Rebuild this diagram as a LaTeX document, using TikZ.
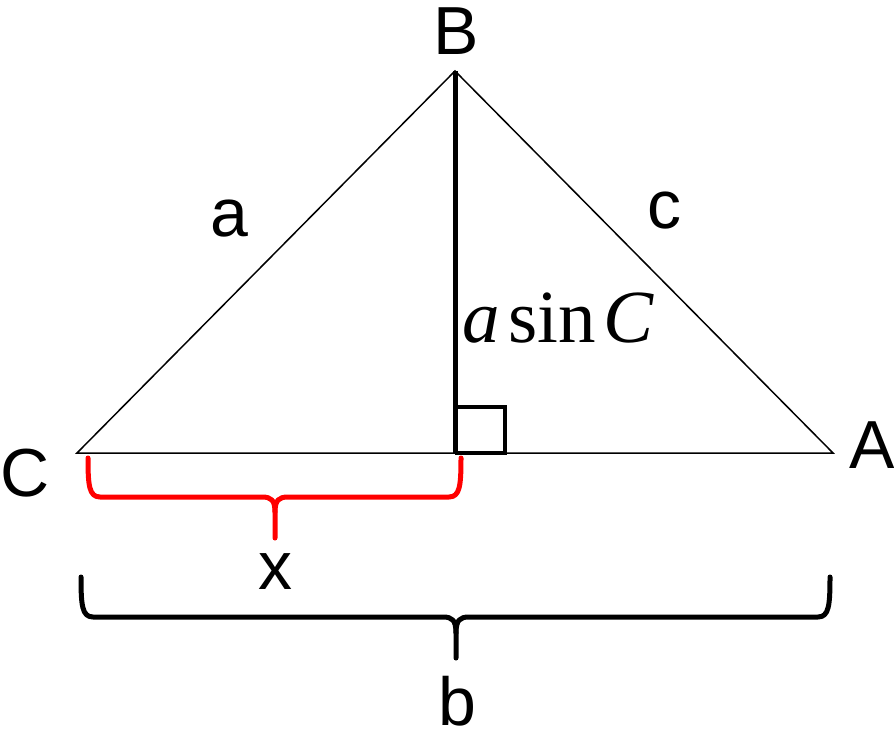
\documentclass[tikz,border=0pt]{standalone}
\usepackage{fontspec}
\setmainfont{Liberation Sans}
\newfontfamily\tnr{Liberation Serif}
\begin{document}
\begin{tikzpicture}[x=1pt,y=-1pt,
  side/.style={line width=1.5pt,line join=miter},
  thickline/.style={line width=5pt},
  brace/.style={line width=5pt,line cap=round,line join=round},
  lbl/.style={inner sep=0pt,font=\fontsize{68}{80}\selectfont}]
\useasboundingbox (0,0) rectangle (894,735);
\coordinate (C) at (77,453);
\coordinate (B) at (455,71);
\coordinate (A) at (833,453);
\coordinate (F) at (455,453);
% triangle
\draw[side] (C) -- (B) -- (A) -- cycle;
% altitude
\draw[thickline] (B) -- (F);
% right angle mark
\draw[line width=4pt] (F) -- (505,453) -- (505,407) -- (455,407);
% labels
\node[lbl] (lB) at (456,31) {B};
\node[lbl] (lC) at (25,473) {C};
\node[lbl] (lA) at (872,445) {A};
\node[lbl] (la) at (229,219) {a};
\node[lbl] (lc) at (664,211) {c};
\node[lbl] (lx) at (275,572) {x};
\node[lbl] (lb) at (457,701) {b};
\node[inner sep=0pt,anchor=base west,font=\tnr\fontsize{75}{90}\selectfont] (h) at (462,342) {\textit{a}\kern0.12em sin\kern0.1em\textit{C}};
% red brace
\draw[brace,red] (88,458) .. controls (88,485) and (89,497) .. (100,497) -- (262,497)
  .. controls (271,497) and (275,500) .. (275,512) -- (275,538);
\draw[brace,red] (461,458) .. controls (461,485) and (460,497) .. (449,497) -- (288,497)
  .. controls (279,497) and (275,500) .. (275,512);
% black brace
\draw[brace] (81,577) .. controls (81,605) and (82,617) .. (93,617) -- (443,617)
  .. controls (452,617) and (456,620) .. (456,633) -- (456,658);
\draw[brace] (830,577) .. controls (830,605) and (829,617) .. (818,617) -- (469,617)
  .. controls (460,617) and (456,620) .. (456,633);
\end{tikzpicture}
\end{document}
